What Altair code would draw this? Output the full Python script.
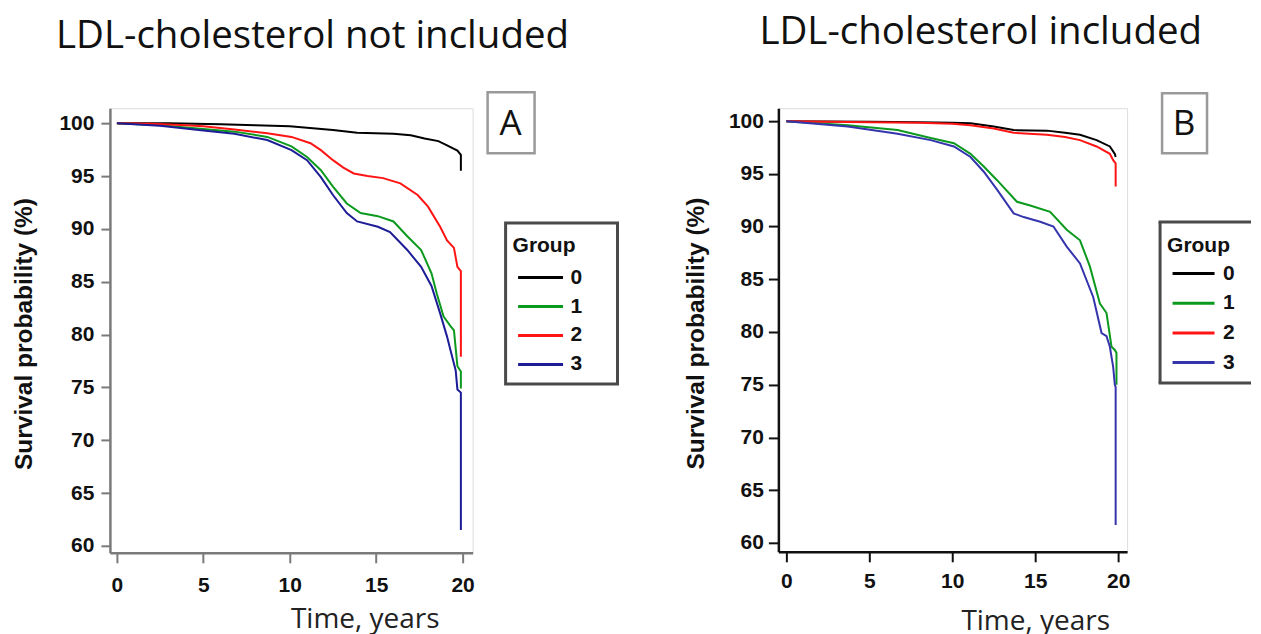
import altair as alt
import pandas as pd

GROUPS = ["0", "1", "2", "3"]
COLORS_A = ["#000000", "#0c9a1e", "#ff1414", "#1c1c96"]
COLORS_B = ["#000000", "#0c9a1e", "#ff1414", "#3434ad"]
X_TICKS = [0, 5, 10, 15, 20]
Y_TICKS = [60, 65, 70, 75, 80, 85, 90, 95, 100]

# ---- Panel A: LDL-cholesterol not included ----
A_T0 = [0, 3, 6, 8, 10, 11.5, 12.5, 13.9, 16, 17, 17.8, 18.6, 19.1, 19.7, 19.9, 19.9]
A_V0 = [100, 100, 99.9, 99.8, 99.7, 99.5, 99.35, 99.1, 99.0, 98.85, 98.55, 98.3, 97.9, 97.4, 97.0, 95.5]
A_T1 = [0, 2.5, 5, 6.8, 8.7, 10.1, 11, 11.8, 12.5, 13.3, 14.1, 15.1, 16, 16.8, 17.6, 18.2, 18.5, 18.9, 19.3, 19.5, 19.7, 19.9, 19.9]
A_V1 = [100, 99.8, 99.45, 99.2, 98.7, 97.8, 96.8, 95.55, 94.0, 92.4, 91.5, 91.2, 90.7, 89.3, 88.0, 85.8, 83.9, 81.7, 80.8, 80.4, 77.0, 76.5, 74.9]
A_T2 = [0, 2, 4, 5, 6.8, 8.7, 10.1, 11.2, 11.8, 12.5, 13.1, 13.7, 14.5, 15.4, 16.4, 17.4, 18.0, 18.7, 19.1, 19.5, 19.7, 19.9, 19.9]
A_V2 = [100, 99.95, 99.8, 99.7, 99.4, 99.05, 98.7, 98.1, 97.45, 96.5, 95.8, 95.24, 95.0, 94.8, 94.3, 93.2, 92.1, 90.2, 88.9, 88.2, 86.4, 86.0, 77.9]
A_T3 = [0, 2.5, 5, 6.8, 8.7, 10.1, 11, 11.8, 12.5, 13.3, 13.9, 15.1, 15.8, 16.8, 17.6, 18.2, 18.7, 19.1, 19.3, 19.6, 19.7, 19.9, 19.9]
A_V3 = [100, 99.75, 99.3, 99.0, 98.4, 97.45, 96.5, 94.9, 93.2, 91.5, 90.7, 90.2, 89.7, 88.0, 86.4, 84.6, 82.0, 79.8, 78.5, 76.6, 74.8, 74.5, 61.5]

# ---- Panel B: LDL-cholesterol included ----
B_T0 = [0, 5, 8, 10, 11.1, 12.5, 13.7, 15.7, 16.8, 17.7, 18.7, 19.5, 19.8, 19.85]
B_V0 = [100, 99.95, 99.9, 99.85, 99.8, 99.5, 99.15, 99.1, 98.9, 98.7, 98.2, 97.6, 96.9, 96.6]
B_T1 = [0, 3.7, 6.7, 8.7, 10.1, 11.1, 11.9, 12.7, 13.9, 14.7, 15.9, 16.9, 17.7, 18.3, 18.9, 19.3, 19.6, 19.8, 19.9, 19.9]
B_V1 = [100, 99.6, 99.15, 98.4, 97.9, 96.9, 95.7, 94.4, 92.35, 92.0, 91.4, 89.7, 88.7, 86.2, 82.7, 81.8, 78.6, 78.3, 78.0, 75.0]
B_T2 = [0, 5, 8, 10, 11.1, 12.5, 13.7, 15.7, 16.8, 17.7, 18.7, 19.5, 19.7, 19.85, 19.85]
B_V2 = [100, 99.9, 99.85, 99.75, 99.6, 99.3, 98.9, 98.7, 98.5, 98.2, 97.6, 96.9, 96.3, 96.0, 93.8]
B_T3 = [0, 3.7, 6.7, 8.7, 10.1, 11.1, 11.9, 12.7, 13.7, 14.3, 15.3, 16.1, 16.9, 17.7, 18.5, 19.0, 19.3, 19.5, 19.7, 19.8, 19.85, 19.85]
B_V3 = [100, 99.5, 98.8, 98.2, 97.6, 96.6, 95.2, 93.5, 91.25, 90.9, 90.45, 90.0, 88.1, 86.5, 83.3, 79.9, 79.6, 78.6, 76.7, 75.0, 74.8, 61.7]

BOLD = "Liberation Sans"
SANS = "Open Sans"


def build(ts, vs):
    rows = []
    i = 0
    for g, t, v in zip(GROUPS, ts, vs):
        for tt, vv in zip(t, v):
            rows.append({"group": g, "t": tt, "v": vv, "i": i})
            i += 1
    return pd.DataFrame(rows)


def edge(df, x1, x2, y1, y2, color, width):
    return alt.Chart(df).mark_rule(color=color, strokeWidth=width).encode(
        x=alt.value(x1), x2=alt.value(x2), y=alt.value(y1), y2=alt.value(y2))


def panel(df, cfg):
    w, h = cfg["w"], cfg["h"]
    ac = cfg["axis_color"]
    lines = alt.Chart(df).mark_line(strokeWidth=2).encode(
        x=alt.X(
            "t:Q", title="Time, years",
            scale=alt.Scale(domain=cfg["xdom"], nice=False, zero=False),
            axis=alt.Axis(values=X_TICKS, grid=False, domainColor=ac, domainWidth=2.5,
                          tickColor=ac, tickWidth=2, tickSize=10, labelPadding=cfg["xlabpad"],
                          labelFont=BOLD, labelFontWeight="bold", labelFontSize=21,
                          labelColor="#111111", labelFlush=False,
                          titleFont=SANS, titleFontSize=28, titleFontWeight="normal",
                          titleColor="#222222", titleX=cfg["xtx"], titleY=cfg["xty"],
                          titleAlign="center", titleBaseline="alphabetic"),
        ),
        y=alt.Y(
            "v:Q", title="Survival probability (%)",
            scale=alt.Scale(domain=cfg["ydom"], nice=False, zero=False),
            axis=alt.Axis(values=Y_TICKS, grid=False, domainColor=ac, domainWidth=2.5,
                          tickColor=ac, tickWidth=2, tickSize=cfg["ytick"], labelPadding=cfg["ylabpad"],
                          labelFont=BOLD, labelFontWeight="bold", labelFontSize=21,
                          labelColor="#111111", labelFlush=False,
                          titleFont=BOLD, titleFontSize=24.5, titleFontWeight="bold",
                          titleColor="#111111", titleX=cfg["ytx"], titleY=h / 2 + 3,
                          titleAngle=270, titleAlign="center", titleBaseline="middle"),
        ),
        color=alt.Color(
            "group:N",
            scale=alt.Scale(domain=GROUPS, range=cfg["colors"]),
            legend=alt.Legend(title="Group", orient="none", legendX=cfg["lx"], legendY=cfg["ly"],
                              padding=0, symbolType="M-2,0H2", symbolSize=cfg["lsize"],
                              symbolStrokeWidth=3, symbolOffset=cfg["lso"], labelOffset=cfg["llo"],
                              rowPadding=cfg["lrp"], titlePadding=cfg["ltp"],
                              titleFont=BOLD, titleFontSize=21, titleFontWeight="bold",
                              titleColor="#111111", labelFont=BOLD, labelFontSize=21,
                              labelFontWeight="bold", labelColor="#111111"),
        ),
        order=alt.Order("i:Q"),
    )
    lab = pd.DataFrame({"label": [cfg["letter"]]})
    bx = cfg["box"]
    box = alt.Chart(lab).mark_rect(fill="white", fillOpacity=0, stroke="#9a9a9a", strokeWidth=2.5).encode(
        x=alt.value(bx[0]), x2=alt.value(bx[1]), y=alt.value(bx[2]), y2=alt.value(bx[3]))
    letter = alt.Chart(lab).mark_text(font=SANS, fontSize=35, align="center", baseline="alphabetic",
                                      color="#111111").encode(
        x=alt.value(cfg["letter_xy"][0]), y=alt.value(cfg["letter_xy"][1]), text="label:N")
    fr = cfg["frame"]
    fc = "#4a4a4a"
    if cfg["frame_open"]:
        # legend frame running off the right edge of the page: left, top and bottom sides only
        frame_layers = [
            edge(lab, fr[0], fr[0], fr[2], fr[3], fc, 3),
            edge(lab, fr[0] - 1.5, fr[1], fr[2], fr[2], fc, 3),
            edge(lab, fr[0] - 1.5, fr[1], fr[3], fr[3], fc, 3),
        ]
    else:
        frame_layers = [alt.Chart(lab).mark_rect(fill="white", fillOpacity=0, stroke=fc, strokeWidth=3).encode(
            x=alt.value(fr[0]), x2=alt.value(fr[1]), y=alt.value(fr[2]), y2=alt.value(fr[3]))]
    return alt.layer(*frame_layers, box, letter, lines).properties(
        width=w, height=h,
        title=alt.TitleParams(cfg["title"], anchor="start", frame="group", dx=cfg["tdx"],
                              offset=cfg["toff"], font=SANS, fontSize=38.5, fontWeight="normal",
                              color="#111111", baseline="alphabetic"),
    )


cfgA = dict(w=363, h=445, xdom=[-0.405, 20.58], ydom=[59.34, 101.42], axis_color="#7a7a7a",
            colors=COLORS_A,
            xlabpad=12, xtx=255, xty=75, ytick=9, ylabpad=7, ytx=-85,
            lx=403, ly=127, lsize=506, lso=15, llo=17, lrp=6, ltp=8.5,
            letter="A", box=[378, 425, -16, 45], letter_xy=[401, 27], frame=[396, 508, 115, 276],
            frame_open=False,
            title="LDL-cholesterol not included", tdx=-54, toff=4)
cfgB = dict(w=349, h=444, xdom=[-0.482, 20.54], ydom=[59.15, 101.23], axis_color="#111111",
            colors=COLORS_B,
            xlabpad=9, xtx=257, xty=78, ytick=10, ylabpad=5, ytx=-82,
            lx=389, ly=127, lsize=441, lso=14.5, llo=17.5, lrp=7.7, ltp=5.5,
            letter="B", box=[384, 429, -15, 45], letter_xy=[406, 27], frame=[382, 473, 114, 275],
            frame_open=True,
            title="LDL-cholesterol included", tdx=-19, toff=9)

pa = panel(build([A_T0, A_T1, A_T2, A_T3], [A_V0, A_V1, A_V2, A_V3]), cfgA)
pb = panel(build([B_T0, B_T1, B_T2, B_T3], [B_V0, B_V1, B_V2, B_V3]), cfgB)

chart = alt.hconcat(pa, pb, spacing=306, bounds="flush",
                    padding={"left": 3, "top": 4, "right": 0, "bottom": 0}).resolve_scale(
    color="independent").configure_view(strokeWidth=0).configure(background="white")

chart.save("out.html", embed_options={"renderer": "svg", "actions": False})
